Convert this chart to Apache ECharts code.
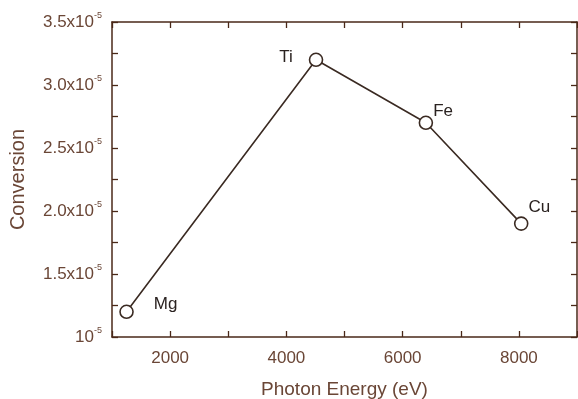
<!DOCTYPE html>
<html><head><meta charset="utf-8">
<script src="https://cdn.jsdelivr.net/npm/echarts@6/dist/echarts.min.js"></script>
<style>html,body{margin:0;padding:0;background:#fff}#c{width:578px;height:399px}</style>
</head><body><div id="c"></div>
<script>
const elements = ['Mg', 'Ti', 'Fe', 'Cu'];
const photonEnergy = [1250, 4510, 6400, 8040];
const conversion = [1.2, 3.2, 2.7, 1.9]; // in units of 1e-5
const yTicks = [1.0, 1.5, 2.0, 2.5, 3.0, 3.5];
const xTicks = [2000, 4000, 6000, 8000];

const textColor = '#6a4636';
const axisColor = '#4a2818';
const lineColor = '#3a2a22';
const font = 'Liberation Sans, Arial, sans-serif';

const labelPos = {
  Mg: {position: 'right', offset: [15, -7]},
  Ti: {position: 'left', offset: [-11, -2]},
  Fe: {position: 'right', offset: [-5, -11]},
  Cu: {position: 'right', offset: [-5, -16]}
};

const chart = echarts.init(document.getElementById('c'));
const axisLine = {show: true, lineStyle: {color: axisColor, width: 1.5}};
chart.setOption({
  animation: false,
  grid: {left: 112, right: 1, top: 22, bottom: 62, containLabel: false, outerBoundsMode: 'none'},
  xAxis: [{
    type: 'value', min: 1000, max: 9000, interval: 1000, position: 'bottom',
    name: 'Photon Energy (eV)', nameLocation: 'middle', nameGap: 43,
    nameTextStyle: {color: textColor, fontSize: 19, fontFamily: font},
    axisLine: axisLine, splitLine: {show: false},
    axisTick: {inside: true, length: 6, lineStyle: {color: axisColor, width: 1.3}},
    axisLabel: {color: textColor, fontSize: 17, fontFamily: font, margin: 13,
      formatter: v => xTicks.includes(v) ? String(v) : ''}
  }, {
    type: 'value', min: 1000, max: 9000, interval: 1000, position: 'top',
    axisLine: axisLine, splitLine: {show: false},
    axisTick: {inside: true, length: 6, lineStyle: {color: axisColor, width: 1.3}},
    axisLabel: {show: false}
  }],
  yAxis: [{
    type: 'value', min: 1, max: 3.5, interval: 0.5, position: 'left',
    name: 'Conversion', nameLocation: 'middle', nameGap: 84,
    nameTextStyle: {color: textColor, fontSize: 20, fontFamily: font},
    axisLine: axisLine, splitLine: {show: false},
    axisTick: {inside: true, length: 6, lineStyle: {color: axisColor, width: 1.3}},
    minorTick: {show: true, splitNumber: 2, length: 6, lineStyle: {color: axisColor, width: 1.3}},
    axisLabel: {
      margin: 10,
      formatter: v => {
        if (!yTicks.some(t => Math.abs(t - v) < 1e-9)) return '';
        if (Math.abs(v - 1) < 1e-9) return '{b|10}{s|-5}';
        return '{b|' + v.toFixed(1) + 'x10}{s|-5}';
      },
      rich: {
        b: {color: textColor, fontSize: 17, fontFamily: font},
        s: {color: textColor, fontSize: 9, fontFamily: font, verticalAlign: 'top', padding: [0, 0, 12, 0]}
      }
    }
  }, {
    type: 'value', min: 1, max: 3.5, interval: 0.5, position: 'right',
    axisLine: axisLine, splitLine: {show: false},
    axisTick: {inside: true, length: 6, lineStyle: {color: axisColor, width: 1.3}},
    minorTick: {show: true, splitNumber: 2, length: 6, lineStyle: {color: axisColor, width: 1.3}},
    axisLabel: {show: false}
  }],
  series: [{
    type: 'line', xAxisIndex: 0, yAxisIndex: 0,
    data: photonEnergy.map((x, i) => ({
      value: [x, conversion[i]], name: elements[i],
      label: Object.assign({show: true, formatter: elements[i], color: '#2a2220', fontSize: 17, fontFamily: font}, labelPos[elements[i]])
    })),
    symbol: 'circle', symbolSize: 13,
    itemStyle: {color: '#fff', borderColor: lineColor, borderWidth: 1.6},
    lineStyle: {color: lineColor, width: 1.6}
  }]
});
</script></body></html>
